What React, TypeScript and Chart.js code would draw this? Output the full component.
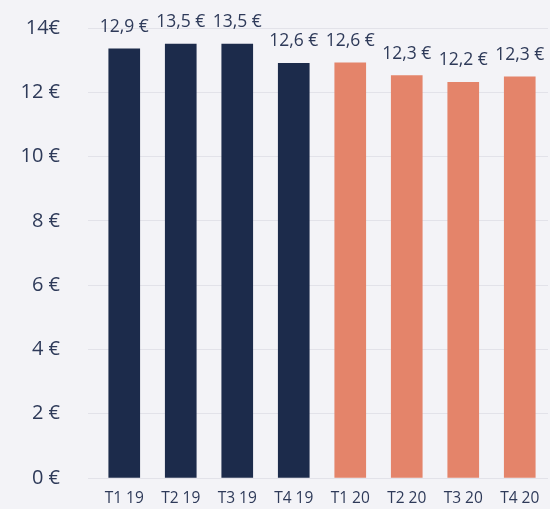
import React, { useEffect, useRef } from "react";
import { Chart, registerables } from "chart.js";

Chart.register(...registerables);

const categories = ["T1 19", "T2 19", "T3 19", "T4 19", "T1 20", "T2 20", "T3 20", "T4 20"];
const barValues = [13.35, 13.5, 13.5, 12.9, 12.92, 12.52, 12.31, 12.48];
const valueLabels = ["12,9 €", "13,5 €", "13,5 €", "12,6 €", "12,6 €", "12,3 €", "12,2 €", "12,3 €"];
const yTickLabels = ["0 €", "2 €", "4 €", "6 €", "8 €", "10 €", "12 €", "14€"];

const NAVY = "#1c2b4b";
const SALMON = "#e4846a";
const TEXT = "#2e3a59";
const BG = "#f3f3f7";
const GRID = "#e2e2e9";
const FONT = "'Open Sans', sans-serif";

const barColors = categories.map((c) => (c.endsWith("19") ? NAVY : SALMON));

const valueLabelPlugin = {
  id: "valueLabels",
  afterDatasetsDraw(chart: any) {
    const ctx = chart.ctx;
    const meta = chart.getDatasetMeta(0);
    ctx.save();
    ctx.font = `17.5px ${FONT}`;
    ctx.fillStyle = TEXT;
    ctx.textAlign = "center";
    ctx.textBaseline = "alphabetic";
    meta.data.forEach((bar: any, i: number) => {
      ctx.fillText(valueLabels[i], bar.x, bar.y - 17);
    });
    ctx.restore();
  },
};

const bgPlugin = {
  id: "bg",
  beforeDraw(chart: any) {
    const ctx = chart.ctx;
    ctx.save();
    ctx.fillStyle = BG;
    ctx.fillRect(0, 0, chart.width, chart.height);
    ctx.restore();
  },
};

export default function App() {
  const ref = useRef<HTMLCanvasElement | null>(null);

  useEffect(() => {
    document.body.style.margin = "0";
    document.body.style.background = BG;
    if (!ref.current) return;
    const chart = new Chart(ref.current, {
      type: "bar",
      data: {
        labels: categories,
        datasets: [
          {
            data: barValues,
            backgroundColor: barColors,
            borderWidth: 0,
            barThickness: 31,
          },
        ],
      },
      options: {
        animation: false,
        responsive: false,
        maintainAspectRatio: false,
        layout: { padding: { top: 28, right: 2, left: 0, bottom: 0 } },
        plugins: {
          legend: { display: false },
          tooltip: { enabled: false },
          title: { display: false },
        },
        scales: {
          x: {
            grid: { display: false, drawTicks: false },
            border: { display: false },
            ticks: {
              color: TEXT,
              font: { family: FONT, size: 15.5 },
              padding: 11,
              maxRotation: 0,
              autoSkip: false,
            },
            afterFit: (scale: any) => {
              scale.height = 31;
              scale.paddingLeft = 0;
              scale.paddingRight = 0;
            },
          },
          y: {
            min: 0,
            max: 14,
            grid: { color: GRID, lineWidth: 1, drawTicks: true, tickLength: 8 },
            border: { display: false },
            ticks: {
              stepSize: 2,
              color: TEXT,
              font: { family: FONT, size: 20 },
              padding: 28,
              callback: (_v: any, i: number) => yTickLabels[i],
            },
            afterFit: (scale: any) => {
              scale.width = 96;
              scale.paddingTop = 0;
              scale.paddingBottom = 0;
            },
          },
        },
      },
      plugins: [bgPlugin, valueLabelPlugin],
    });
    return () => chart.destroy();
  }, []);

  return (
    <div style={{ width: 550, height: 509, background: BG }}>
      <canvas ref={ref} width={550} height={509} style={{ display: "block" }} />
    </div>
  );
}
